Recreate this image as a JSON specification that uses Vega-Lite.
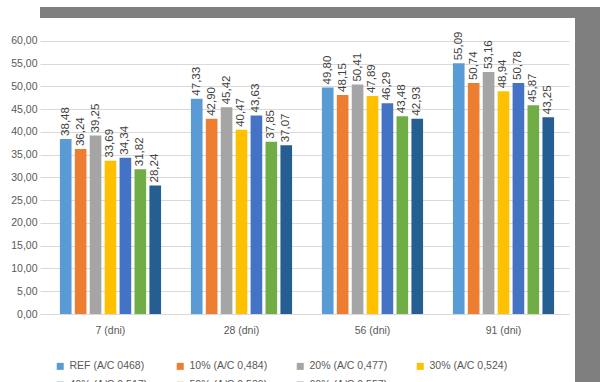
{
  "$schema": "https://vega.github.io/schema/vega-lite/v6.json",
  "background": "white",
  "padding": {"left": 10, "top": 7, "right": 0, "bottom": 0},
  "columns": 2,
  "spacing": 0,
  "bounds": "flush",
  "align": "each",
  "config": {
    "view": {"stroke": null},
    "font": "Liberation Sans",
    "locale": {
      "number": {"decimal": ",", "thousands": " ", "grouping": [3], "currency": ["", ""]}
    }
  },
  "resolve": {"scale": {"color": "independent"}, "legend": {"color": "independent"}},
  "concat": [
    {
      "width": 535,
      "height": 11,
      "data": {"values": []},
      "mark": "rect",
      "encoding": {},
      "view": {"fill": "#7f7f7f", "stroke": null}
    },
    {
      "width": 25,
      "height": 11,
      "data": {"values": []},
      "mark": "rect",
      "encoding": {},
      "view": {"fill": "#7f7f7f", "stroke": null}
    },
    {
      "width": 529,
      "height": 296,
      "data": {
        "values": [
          {"age": "7 (dni)", "series": "REF (A/C 0468)", "value": 38.48},
          {"age": "7 (dni)", "series": "10% (A/C 0,484)", "value": 36.24},
          {"age": "7 (dni)", "series": "20% (A/C 0,477)", "value": 39.25},
          {"age": "7 (dni)", "series": "30% (A/C 0,524)", "value": 33.69},
          {"age": "7 (dni)", "series": "40% (A/C 0,517)", "value": 34.34},
          {"age": "7 (dni)", "series": "50% (A/C 0,539)", "value": 31.82},
          {"age": "7 (dni)", "series": "60% (A/C 0,557)", "value": 28.24},
          {"age": "28 (dni)", "series": "REF (A/C 0468)", "value": 47.33},
          {"age": "28 (dni)", "series": "10% (A/C 0,484)", "value": 42.9},
          {"age": "28 (dni)", "series": "20% (A/C 0,477)", "value": 45.42},
          {"age": "28 (dni)", "series": "30% (A/C 0,524)", "value": 40.47},
          {"age": "28 (dni)", "series": "40% (A/C 0,517)", "value": 43.63},
          {"age": "28 (dni)", "series": "50% (A/C 0,539)", "value": 37.85},
          {"age": "28 (dni)", "series": "60% (A/C 0,557)", "value": 37.07},
          {"age": "56 (dni)", "series": "REF (A/C 0468)", "value": 49.8},
          {"age": "56 (dni)", "series": "10% (A/C 0,484)", "value": 48.15},
          {"age": "56 (dni)", "series": "20% (A/C 0,477)", "value": 50.41},
          {"age": "56 (dni)", "series": "30% (A/C 0,524)", "value": 47.89},
          {"age": "56 (dni)", "series": "40% (A/C 0,517)", "value": 46.29},
          {"age": "56 (dni)", "series": "50% (A/C 0,539)", "value": 43.48},
          {"age": "56 (dni)", "series": "60% (A/C 0,557)", "value": 42.93},
          {"age": "91 (dni)", "series": "REF (A/C 0468)", "value": 55.09},
          {"age": "91 (dni)", "series": "10% (A/C 0,484)", "value": 50.74},
          {"age": "91 (dni)", "series": "20% (A/C 0,477)", "value": 53.16},
          {"age": "91 (dni)", "series": "30% (A/C 0,524)", "value": 48.94},
          {"age": "91 (dni)", "series": "40% (A/C 0,517)", "value": 50.78},
          {"age": "91 (dni)", "series": "50% (A/C 0,539)", "value": 45.87},
          {"age": "91 (dni)", "series": "60% (A/C 0,557)", "value": 43.25}
        ]
      },
      "encoding": {
        "x": {
          "field": "age",
          "type": "nominal",
          "sort": ["7 (dni)", "28 (dni)", "56 (dni)", "91 (dni)"],
          "scale": {"paddingInner": 0, "paddingOuter": 0.019, "align": 1},
          "axis": {
            "title": null,
            "labelAngle": 0,
            "ticks": false,
            "domainColor": "#d9d9d9",
            "labelColor": "#595959",
            "labelFontSize": 10.5,
            "labelPadding": 11
          }
        },
        "xOffset": {
          "field": "series",
          "type": "nominal",
          "sort": ["REF (A/C 0468)", "10% (A/C 0,484)", "20% (A/C 0,477)", "30% (A/C 0,524)", "40% (A/C 0,517)", "50% (A/C 0,539)", "60% (A/C 0,557)"],
          "scale": {"paddingInner": 0.22, "paddingOuter": 1.05}
        },
        "y": {
          "field": "value",
          "type": "quantitative",
          "scale": {"domain": [0, 65.05], "nice": false},
          "axis": {
            "title": null,
            "values": [0, 5, 10, 15, 20, 25, 30, 35, 40, 45, 50, 55, 60],
            "format": ".2f",
            "domain": false,
            "ticks": false,
            "gridColor": "#d9d9d9",
            "labelColor": "#595959",
            "labelFontSize": 10.5,
            "labelPadding": 3
          }
        }
      },
      "layer": [
        {
          "mark": {"type": "bar"},
          "encoding": {
            "color": {
              "field": "series",
              "type": "nominal",
              "sort": ["REF (A/C 0468)", "10% (A/C 0,484)", "20% (A/C 0,477)", "30% (A/C 0,524)", "40% (A/C 0,517)", "50% (A/C 0,539)", "60% (A/C 0,557)"],
              "scale": {
                "domain": ["REF (A/C 0468)", "10% (A/C 0,484)", "20% (A/C 0,477)", "30% (A/C 0,524)", "40% (A/C 0,517)", "50% (A/C 0,539)", "60% (A/C 0,557)"],
                "range": ["#5b9bd5", "#ed7d31", "#a5a5a5", "#ffc000", "#4472c4", "#70ad47", "#255e91"]
              },
              "legend": {
                "title": null,
                "orient": "bottom",
                "columns": 4,
                "symbolType": "square",
                "symbolSize": 49,
                "symbolStrokeWidth": 0,
                "labelFontSize": 10.5,
                "labelColor": "#595959",
                "labelLimit": 0,
                "columnPadding": 27,
                "rowPadding": 8,
                "padding": 15,
                "offset": 10
              }
            }
          }
        },
        {
          "mark": {
            "type": "text",
            "angle": 270,
            "align": "left",
            "baseline": "middle",
            "dx": 3,
            "fontSize": 11.5,
            "color": "#404040"
          },
          "encoding": {
            "text": {"field": "value", "type": "quantitative", "format": ".2f"}
          }
        }
      ]
    },
    {
      "width": 25,
      "height": 364,
      "data": {"values": []},
      "mark": "rect",
      "encoding": {},
      "view": {"fill": "#7f7f7f", "stroke": null}
    }
  ]
}
